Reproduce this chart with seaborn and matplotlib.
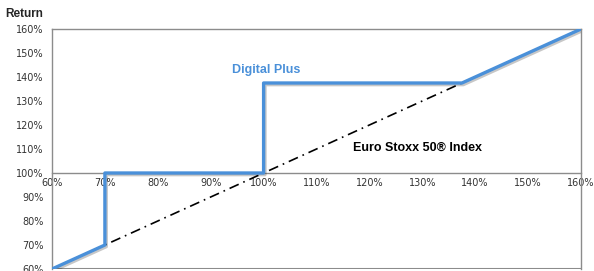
import numpy as np
import pandas as pd
import seaborn as sns
import matplotlib.pyplot as plt
import matplotlib.patheffects as pe
from matplotlib.ticker import MultipleLocator, FuncFormatter

# underlying index performance (x) and product return (y), in %
index_level = [60, 70, 70, 100, 100, 137.5, 160]
digital_plus = [60, 70, 100, 100, 137.5, 137.5, 160]
index_diag = [60, 160]

sns.set_style("white")
plt.rcParams['font.family'] = ['DejaVu Sans']

fig = plt.figure(figsize=(5.94, 2.71), dpi=100)
ax = fig.add_axes([52/594, 1 - 269/271, (581-52)/594, (269-29)/271])

sns.lineplot(x=index_diag, y=index_diag, ax=ax, color='black', lw=1.2,
             linestyle=(0, (6, 3, 1, 3)), zorder=2, estimator=None)
sns.lineplot(x=index_level, y=digital_plus, ax=ax, color='#4a90d9', lw=2.4,
             sort=False, estimator=None, zorder=3,
             path_effects=[pe.SimpleLineShadow(offset=(1, -1.2), alpha=0.22),
                           pe.Normal()])

ax.set_xlim(60, 160)
ax.set_ylim(60, 160)
pct = FuncFormatter(lambda v, p: f"{v:.0f}%")
ax.xaxis.set_major_locator(MultipleLocator(10))
ax.xaxis.set_minor_locator(MultipleLocator(5))
ax.yaxis.set_major_locator(MultipleLocator(10))
ax.yaxis.set_minor_locator(MultipleLocator(5))
ax.xaxis.set_major_formatter(pct)
ax.yaxis.set_major_formatter(pct)

for s in ax.spines.values():
    s.set_color('#8c8c8c')
    s.set_linewidth(1)
ax.spines['bottom'].set_position(('data', 100))
ax.axhline(60, color='#8c8c8c', lw=1.5, zorder=1)

ax.tick_params(axis='x', which='major', direction='inout', length=5, width=0.8,
               color='#8c8c8c', labelsize=7, pad=1, labelcolor='#333333')
ax.tick_params(axis='x', which='minor', direction='in', length=2.5, width=0.8,
               color='#8c8c8c')
ax.tick_params(axis='y', which='major', direction='out', length=3, width=0.8,
               color='#8c8c8c', labelsize=7, pad=3, labelcolor='#333333')
ax.tick_params(axis='y', which='minor', direction='in', length=2.5, width=0.8,
               color='#8c8c8c')
ax.set_xlabel('')
ax.set_ylabel('')

ax.text(100.4, 143, 'Digital Plus', color='#4a90d9', fontsize=9,
        fontweight='bold', ha='center', va='center', family='Liberation Sans')
ax.text(129, 110.4, 'Euro Stoxx 50® Index', color='black', fontsize=9,
        fontweight='bold', ha='center', va='center', family='Liberation Sans')
fig.text(5/594, 1 - 14/271, 'Return', fontsize=8.5, fontweight='bold',
         ha='left', va='center', family='Liberation Sans')

fig.savefig('out.png', dpi=100)
